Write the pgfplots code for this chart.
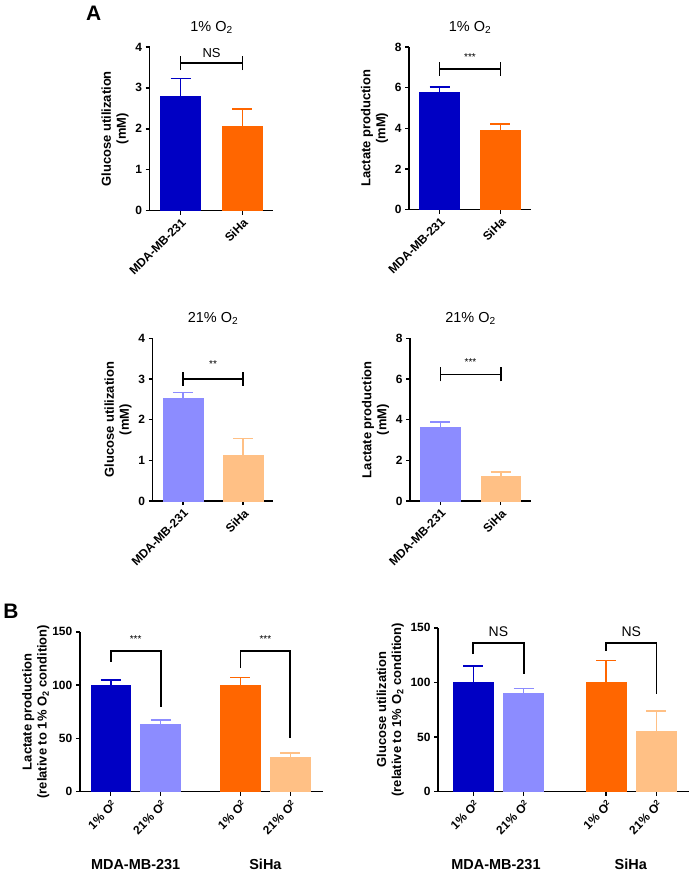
\documentclass[border=0pt]{standalone}
\usepackage{pgfplots}
\pgfplotsset{compat=1.18}
\usepackage{fontspec}
\setmainfont{Liberation Sans}
\definecolor{dblue}{RGB}{0,0,196}
\definecolor{lblue}{RGB}{140,140,255}
\definecolor{dorange}{RGB}{255,102,0}
\definecolor{lorange}{RGB}{255,192,133}
\pgfplotsset{
  common/.style={
    scale only axis,
    axis x line*=bottom, axis y line*=left,
    axis line style={line width=1.5pt},
    every tick/.style={line width=1.5pt, black},
    major tick length=4pt,
    tick align=outside,
    ymin=0,
    clip=false,
    ticklabel style={font=\bfseries\fontsize{12}{13}\selectfont},
    /pgf/number format/assume math mode=true,
    x tick label style={rotate=45, anchor=north east, inner sep=2pt},
    ylabel style={font=\bfseries\fontsize{13}{15}\selectfont, align=center},
    title style={font=\fontsize{14.5}{16}\selectfont, yshift=4pt},
  },
  bb/.style={ybar, bar width=40pt, bar shift=0pt, fill=#1, draw=#1, mark=none,
    error bars/.cd, y dir=plus, y explicit,
    error bar style={line width=1.6pt, draw=#1},
    error mark options={rotate=90, mark size=10pt, line width=1.6pt, draw=#1},
    /pgfplots/.cd},
}
\begin{document}
\begin{tikzpicture}
\path (0pt,0pt) rectangle (689pt,-873pt);
\node[font=\bfseries\fontsize{21}{23}\selectfont] at (92pt,-13pt) {A};
\node[font=\bfseries\fontsize{21}{23}\selectfont] at (9pt,-612pt) {B};
% Panel 1
\begin{axis}[common, at={(148pt,-211pt)}, anchor=south west,
  width=124pt, height=164pt, xmin=-0.5, xmax=1.5, ymax=4, ytick={0,1,2,3,4},
  xtick={0,1}, xticklabels={MDA-MB-231,SiHa},
  ylabel={Glucose utilization\\(mM)},
  title={1\% O\textsubscript{2}}]
\addplot[bb=dblue] coordinates {(0,2.80) +- (0,0.43)};
\addplot[bb=dorange] coordinates {(1,2.07) +- (0,0.42)};
\draw[line width=1.6pt] (axis cs:0,3.6) -- (axis cs:1,3.6);
\draw[line width=1.6pt] (axis cs:0,3.43) -- (axis cs:0,3.77);
\draw[line width=1.6pt] (axis cs:1,3.43) -- (axis cs:1,3.77);
\node[font=\fontsize{13}{14}\selectfont, anchor=south] at (axis cs:0.5,3.66) {NS};
\end{axis}
% Panel 2
\begin{axis}[common, at={(408pt,-210pt)}, anchor=south west,
  width=122pt, height=163pt, xmin=-0.5, xmax=1.5, ymax=8, ytick={0,2,4,6,8},
  xtick={0,1}, xticklabels={MDA-MB-231,SiHa},
  ylabel={Lactate production\\(mM)},
  title={1\% O\textsubscript{2}}]
\addplot[bb=dblue] coordinates {(0,5.75) +- (0,0.27)};
\addplot[bb=dorange] coordinates {(1,3.92) +- (0,0.30)};
\draw[line width=1.6pt] (axis cs:0,6.92) -- (axis cs:1,6.92);
\draw[line width=1.6pt] (axis cs:0,6.58) -- (axis cs:0,7.26);
\draw[line width=1.6pt] (axis cs:1,6.58) -- (axis cs:1,7.26);
\node[font=\fontsize{10}{11}\selectfont, anchor=south] at (axis cs:0.5,7.15) {***};
\end{axis}
% Panel 3
\begin{axis}[common, at={(151pt,-502pt)}, anchor=south west,
  width=121pt, height=163pt, xmin=-0.5, xmax=1.5, ymax=4, ytick={0,1,2,3,4},
  xtick={0,1}, xticklabels={MDA-MB-231,SiHa},
  ylabel={Glucose utilization\\(mM)},
  title={21\% O\textsubscript{2}}]
\addplot[bb=lblue] coordinates {(0,2.54) +- (0,0.13)};
\addplot[bb=lorange] coordinates {(1,1.13) +- (0,0.41)};
\draw[line width=1.6pt] (axis cs:0,3.0) -- (axis cs:1,3.0);
\draw[line width=1.6pt] (axis cs:0,2.83) -- (axis cs:0,3.17);
\draw[line width=1.6pt] (axis cs:1,2.83) -- (axis cs:1,3.17);
\node[font=\fontsize{10}{11}\selectfont, anchor=south] at (axis cs:0.5,3.2) {**};
\end{axis}
% Panel 4
\begin{axis}[common, at={(409pt,-502pt)}, anchor=south west,
  width=121pt, height=163pt, xmin=-0.5, xmax=1.5, ymax=8, ytick={0,2,4,6,8},
  xtick={0,1}, xticklabels={MDA-MB-231,SiHa},
  ylabel={Lactate production\\(mM)},
  title={21\% O\textsubscript{2}}]
\addplot[bb=lblue] coordinates {(0,3.64) +- (0,0.24)};
\addplot[bb=lorange] coordinates {(1,1.23) +- (0,0.20)};
\draw[line width=1.6pt] (axis cs:0,6.23) -- (axis cs:1,6.23);
\draw[line width=1.6pt] (axis cs:0,5.89) -- (axis cs:0,6.57);
\draw[line width=1.6pt] (axis cs:1,5.89) -- (axis cs:1,6.57);
\node[font=\fontsize{10}{11}\selectfont, anchor=south] at (axis cs:0.5,6.5) {***};
\end{axis}
% Panel 5
\begin{axis}[common, at={(78pt,-793pt)}, anchor=south west,
  width=244pt, height=160pt, xmin=-0.62, xmax=4.26, ymax=150, ytick={0,50,100,150},
  xtick={0,1,2.6,3.6},
  xticklabels={1\% O\textsuperscript{2},21\% O\textsuperscript{2},1\% O\textsuperscript{2},21\% O\textsuperscript{2}},
  ylabel style={xshift=0pt, yshift=-4pt},
  ylabel={Lactate production\\(relative to 1\% O\textsubscript{2} condition)}]
\addplot[bb=dblue] coordinates {(0,100) +- (0,4.5)};
\addplot[bb=lblue] coordinates {(1,63) +- (0,4)};
\addplot[bb=dorange] coordinates {(2.6,100) +- (0,7)};
\addplot[bb=lorange] coordinates {(3.6,32) +- (0,4)};
\draw[line width=1.8pt] (axis cs:0,122) -- (axis cs:0,132) -- (axis cs:1,132) -- (axis cs:1,79);
\draw[line width=1.8pt] (axis cs:2.6,116) -- (axis cs:2.6,132) -- (axis cs:3.6,132) -- (axis cs:3.6,50.6);
\node[font=\fontsize{10}{11}\selectfont] at (axis cs:0.5,143) {***};
\node[font=\fontsize{10}{11}\selectfont] at (axis cs:3.1,143) {***};
\end{axis}
\node[font=\bfseries\fontsize{14.5}{16}\selectfont] at (134pt,-866pt) {MDA-MB-231};
\node[font=\bfseries\fontsize{14.5}{16}\selectfont] at (264pt,-866pt) {SiHa};
% Panel 6
\begin{axis}[common, at={(437pt,-793pt)}, anchor=south west,
  width=251pt, height=164pt, xmin=-0.7, xmax=4.28, ymax=150, ytick={0,50,100,150},
  xtick={0,1,2.64,3.64},
  xticklabels={1\% O\textsuperscript{2},21\% O\textsuperscript{2},1\% O\textsuperscript{2},21\% O\textsuperscript{2}},
  ylabel={Glucose utilization\\(relative to 1\% O\textsubscript{2} condition)}]
\addplot[bb=dblue] coordinates {(0,100) +- (0,15)};
\addplot[bb=lblue] coordinates {(1,90.5) +- (0,4)};
\addplot[bb=dorange] coordinates {(2.64,100) +- (0,20)};
\addplot[bb=lorange] coordinates {(3.64,55) +- (0,19)};
\draw[line width=1.8pt] (axis cs:0,126) -- (axis cs:0,136) -- (axis cs:1,136) -- (axis cs:1,108);
\draw[line width=1.8pt] (axis cs:2.64,129) -- (axis cs:2.64,136) -- (axis cs:3.64,136) -- (axis cs:3.64,89);
\node[font=\fontsize{14}{15}\selectfont] at (axis cs:0.5,146) {NS};
\node[font=\fontsize{14}{15}\selectfont] at (axis cs:3.14,146) {NS};
\end{axis}
\node[font=\bfseries\fontsize{14.5}{16}\selectfont] at (495pt,-866pt) {MDA-MB-231};
\node[font=\bfseries\fontsize{14.5}{16}\selectfont] at (630pt,-866pt) {SiHa};
\end{tikzpicture}
\end{document}
